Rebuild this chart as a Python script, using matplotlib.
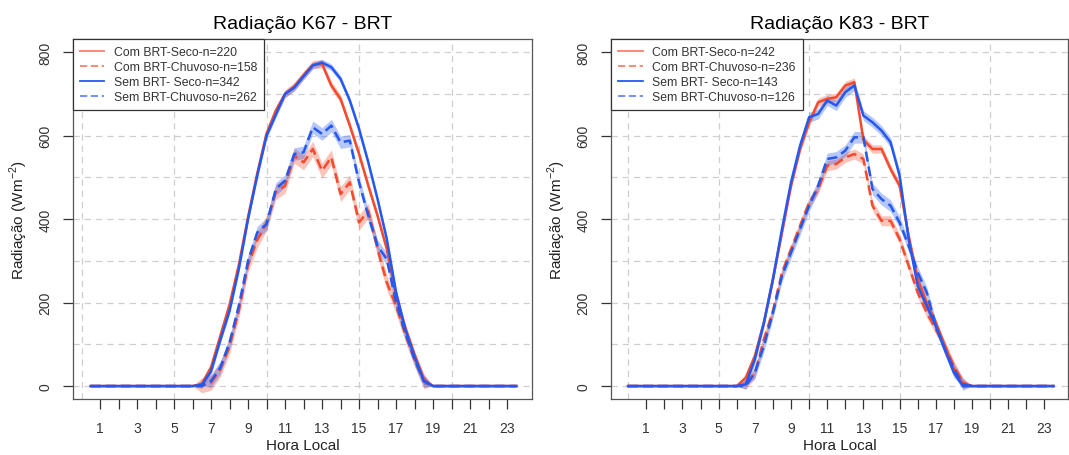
import numpy as np
import matplotlib
matplotlib.use('Agg')
import matplotlib.pyplot as plt
from matplotlib.lines import Line2D

plt.rcParams['font.family'] = ['Liberation Sans', 'DejaVu Sans']
plt.rcParams['mathtext.fontset'] = 'custom'
plt.rcParams['mathtext.rm'] = 'Liberation Sans'

# half-hourly local time
hours_k67 = np.arange(0.5, 24.0, 0.5)   # 0.5 .. 23.5
hours_k83 = np.arange(0.0, 24.0, 0.5)   # 0.0 .. 23.5

# K67 (values from 6.5h to 18.5h, zero otherwise)
k67_com_seco = [0] * 12 + [5, 45, 120, 195, 290, 405, 510, 605, 660, 700, 718, 745, 770, 772, 720,
                           688, 624, 556, 480, 408, 328, 215, 140, 75, 15] + [0] * 10
k67_com_chuv = [0] * 12 + [2, 8, 40, 95, 180, 290, 350, 390, 465, 480, 552, 536, 568, 516, 548,
                           460, 488, 392, 420, 328, 248, 192, 124, 64, 12] + [0] * 10
k67_sem_seco = [0] * 12 + [3, 35, 110, 180, 280, 400, 505, 600, 650, 700, 715, 742, 768, 775, 764,
                           736, 684, 616, 536, 448, 352, 225, 136, 70, 12] + [0] * 10
k67_sem_chuv = [0] * 12 + [0, 12, 44, 104, 192, 300, 368, 388, 472, 492, 556, 560, 620, 604, 624,
                           584, 588, 488, 408, 336, 304, 200, 128, 64, 12] + [0] * 10

# K83 (values from 6.5h to 18.5h, zero otherwise)
k83_com_seco = [0] * 13 + [20, 72, 152, 256, 368, 480, 568, 632, 680, 688, 692, 720, 728, 590, 568,
                           568, 520, 480, 360, 256, 200, 152, 96, 40, 4] + [0] * 10
k83_com_chuv = [0] * 13 + [5, 30, 112, 180, 272, 328, 384, 440, 472, 528, 532, 548, 556, 544, 432,
                           396, 396, 352, 288, 224, 176, 136, 96, 48, 8] + [0] * 10
k83_sem_seco = [0] * 13 + [4, 64, 152, 256, 376, 488, 576, 644, 652, 684, 672, 704, 720, 648, 632,
                           612, 584, 504, 352, 240, 192, 144, 88, 32, 0] + [0] * 10
k83_sem_chuv = [0] * 13 + [0, 32, 96, 176, 264, 320, 376, 432, 480, 544, 548, 564, 596, 596, 472,
                           448, 432, 392, 336, 272, 224, 144, 88, 40, 4] + [0] * 10

# approximate half width of the shaded bands
k67_band = [10, 18, 8, 15]
k83_band = [10, 12, 12, 14]

k67_labels = ['Com BRT-Seco-n=220', 'Com BRT-Chuvoso-n=158',
              'Sem BRT- Seco-n=342', 'Sem BRT-Chuvoso-n=262']
k83_labels = ['Com BRT-Seco-n=242', 'Com BRT-Chuvoso-n=236',
              'Sem BRT- Seco-n=143', 'Sem BRT-Chuvoso-n=126']

RED = '#F44A2E'
BLUE = '#2458F0'
colors = [RED, RED, BLUE, BLUE]
styles = ['-', (0, (4, 2)), '-', (0, (4, 2))]


def draw_panel(ax, x, series, bands, labels, title, xlim):
    for y, se, c, ls in zip(series, bands, colors, styles):
        y = np.array(y, dtype=float)
        half = np.where(y > 0, se, 0)
        ax.fill_between(x, y - half, y + half, color=c, alpha=0.33, lw=0, zorder=2)
        ax.plot(x, y, color=c, lw=1.8, ls=ls, zorder=3)

    ax.set_xlim(*xlim)
    ax.set_ylim(-31, 831)

    # dashed grid
    for gx in [0, 5, 10, 15, 20]:
        ax.axvline(gx, color='#cfcfcf', lw=0.9, ls=(0, (5, 4)), zorder=1)
    for gy in range(0, 900, 100):
        ax.axhline(gy, color='#cfcfcf', lw=0.9, ls=(0, (5, 4)), zorder=1)

    ax.set_xticks(range(1, 24, 2))
    ax.set_xticklabels([str(h) for h in range(1, 24, 2)])
    ax.set_xticks(range(2, 24, 2), minor=True)
    ax.tick_params(axis='x', which='both', direction='out', length=7, width=0.9,
                   color='#333333', labelsize=10, pad=9, labelcolor='#333333')
    ax.set_yticks(range(0, 801, 200))
    ax.set_yticklabels([str(v) for v in range(0, 801, 200)], rotation=90, va='center')
    ax.tick_params(axis='y', direction='out', length=7, width=0.9, color='#333333',
                   labelsize=10, pad=8, labelcolor='#333333')

    for sp in ax.spines.values():
        sp.set_color('#555555')
        sp.set_linewidth(0.9)

    ax.set_title(title, fontsize=14, pad=8)
    ax.set_xlabel('Hora Local', fontsize=11, labelpad=2, color='#222222')
    ax.set_ylabel('Radiação (Wm$^{-2}$)', fontsize=11, labelpad=6, color='#222222')

    handles = [Line2D([], [], color=c, lw=1.3, ls=ls, alpha=a)
               for c, ls, a in zip(colors, styles, [0.7, 0.7, 1.0, 0.7])]
    leg = ax.legend(handles, labels, loc='upper left', bbox_to_anchor=(0, 1),
                    borderaxespad=0, fontsize=8.8, fancybox=False, framealpha=1,
                    edgecolor='#333333', handlelength=2.0, handletextpad=0.8,
                    labelspacing=0.25, borderpad=0.55)
    leg.get_frame().set_linewidth(0.9)
    for t in leg.get_texts():
        t.set_color('#333333')


fig = plt.figure(figsize=(10.69, 4.56), dpi=100)
ax1 = fig.add_axes([0.0683, 0.1228, 0.4294, 0.789])
ax2 = fig.add_axes([0.5720, 0.1228, 0.4270, 0.789])

draw_panel(ax1, hours_k67, [k67_com_seco, k67_com_chuv, k67_sem_seco, k67_sem_chuv],
           k67_band, k67_labels, 'Radiação K67 - BRT', (-0.46, 24.35))
draw_panel(ax2, hours_k83, [k83_com_seco, k83_com_chuv, k83_sem_seco, k83_sem_chuv],
           k83_band, k83_labels, 'Radiação K83 - BRT', (-0.92, 24.3))

plt.savefig('out.png', dpi=100)
plt.close(fig)
